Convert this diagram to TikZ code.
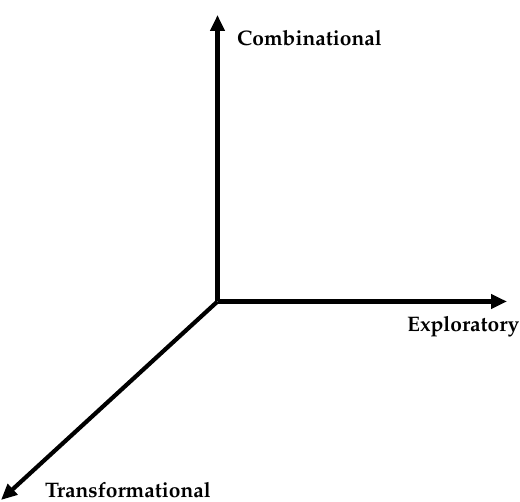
\documentclass[tikz,border=0pt]{standalone}
\IfFileExists{mathpazo.sty}{%
  \usepackage[T1]{fontenc}\usepackage{mathpazo}}{%
  \usepackage{fontspec}\setmainfont{Liberation Serif}}
\usetikzlibrary{arrows.meta}
\begin{document}
\begin{tikzpicture}[x=1pt,y=1pt,
  axis/.style={line width=4.2pt,-{Triangle[length=16pt,width=14pt]}},
  lbl/.style={font=\fontsize{21}{25}\selectfont\bfseries,inner sep=0pt,anchor=base west}]
  \useasboundingbox (0,0) rectangle (520,502);
  \coordinate (o) at (217.5,200.5);
  \coordinate (up) at (217.5,487);
  \coordinate (rt) at (507,200.5);
  \coordinate (dl) at (1,2);
  \draw[axis] (o) -- (up);
  \draw[axis] (o) -- (rt);
  \draw[axis] (o) -- (dl);
  \node[lbl] (comb) at (237,456) {Combinational};
  \node[lbl] (expl) at (407,170) {Exploratory};
  \node[lbl] (trans) at (45,4) {Transformational};
\end{tikzpicture}
\end{document}
